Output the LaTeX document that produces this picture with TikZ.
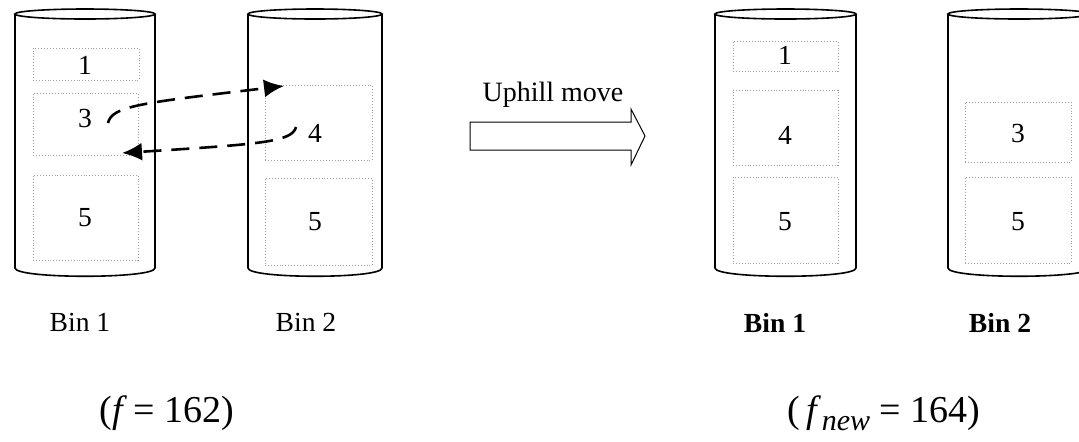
\documentclass[tikz,border=0pt]{standalone}
\usepackage{fontspec}
\setmainfont{Liberation Serif}
\usetikzlibrary{arrows.meta}

\begin{document}
\begin{tikzpicture}[x=0.5pt,y=-0.5pt,
  font=\fontsize{13.8}{16}\selectfont,
  item/.style={draw=gray!75,densely dotted,line width=0.45pt,inner sep=0pt},
  num/.style={inner sep=1pt},
  move/.style={line width=1.3pt,dash pattern=on 9pt off 5pt,-{Latex[length=10pt,width=9pt]}},
  binline/.style={line width=0.8pt}]
\useasboundingbox (0,0) rectangle (1079,441);
\clip (0,0) rectangle (1079,441);

% the four bins
\foreach \xl/\xr in {15/155, 248/382, 715/856, 948/1090}{
  \draw[binline] ({(\xl+\xr)/2},14) ellipse [x radius={(\xr-\xl)/2}, y radius=5];
  \draw[binline] (\xl,14) -- (\xl,268) .. controls (\xl,279) and (\xr,279) .. (\xr,268) -- (\xr,14);
}

% before the move
\node[item,minimum width=53pt,minimum height=16pt] (L1box1) at (86,64) {};
\node[item,minimum width=52.5pt,minimum height=31pt] (L1box3) at (85.5,124) {};
\node[item,minimum width=52.5pt,minimum height=42.5pt] (L1box5) at (85.5,217.5) {};
\node[num] (L1n1) at (85,65) {1};
\node[num] (L1n3) at (85,118) {3};
\node[num] (L1n5) at (85,218) {5};

\node[item,minimum width=53.5pt,minimum height=37.5pt] (L2box4) at (318.5,122.5) {};
\node[item,minimum width=53.5pt,minimum height=43.5pt] (L2box5) at (318.5,221.5) {};
\node[num] (L2n4) at (315,133) {4};
\node[num] (L2n5) at (315,222) {5};

\node (L1lab) at (80,322) {Bin 1};
\node (L2lab) at (306,322) {Bin 2};
\node[font=\fontsize{19}{22}\selectfont] (fold) at (167,413) {(\textit{f}\,= 162)};

% swap of items 3 and 4
\coordinate (s3) at (108,123);
\coordinate (e4) at (284,86);
\coordinate (s4) at (296,127);
\coordinate (e3) at (122,153);
\draw[move] (s3) .. controls (112,106) and (140,103) .. (e4);
\draw[move] (s4) .. controls (292,142) and (262,144) .. (e3);

% big arrow
\draw[line width=0.5pt] (470,122) -- (631,122) -- (631,109) -- (645,136)
  -- (631,165) -- (631,150) -- (470,150) -- cycle;
\node[font=\fontsize{14}{16}\selectfont] (uphill) at (553,95) {Uphill move};

% after the move
\node[item,minimum width=52.5pt,minimum height=15pt] (R1box1) at (785.5,56) {};
\node[item,minimum width=52.5pt,minimum height=37.5pt] (R1box4) at (785.5,127.5) {};
\node[item,minimum width=52.5pt,minimum height=43pt] (R1box5) at (785.5,220) {};
\node[num] (R1n1) at (785,55) {1};
\node[num] (R1n4) at (785,135) {4};
\node[num] (R1n5) at (785,222) {5};

\node[item,minimum width=53pt,minimum height=30pt] (R2box3) at (1018,132) {};
\node[item,minimum width=53pt,minimum height=43pt] (R2box5) at (1018,220) {};
\node[num] (R2n3) at (1018,133) {3};
\node[num] (R2n5) at (1018,222) {5};

\node (R1lab) at (775,323) {\textbf{Bin 1}};
\node (R2lab) at (1000,323) {\textbf{Bin 2}};
\node[font=\fontsize{19}{22}\selectfont] (fnew) at (884,413)
  {(\,\textit{f}\raisebox{-0.45ex}{\fontsize{15}{15}\selectfont\textit{new}} = 164)};
\end{tikzpicture}
\end{document}
